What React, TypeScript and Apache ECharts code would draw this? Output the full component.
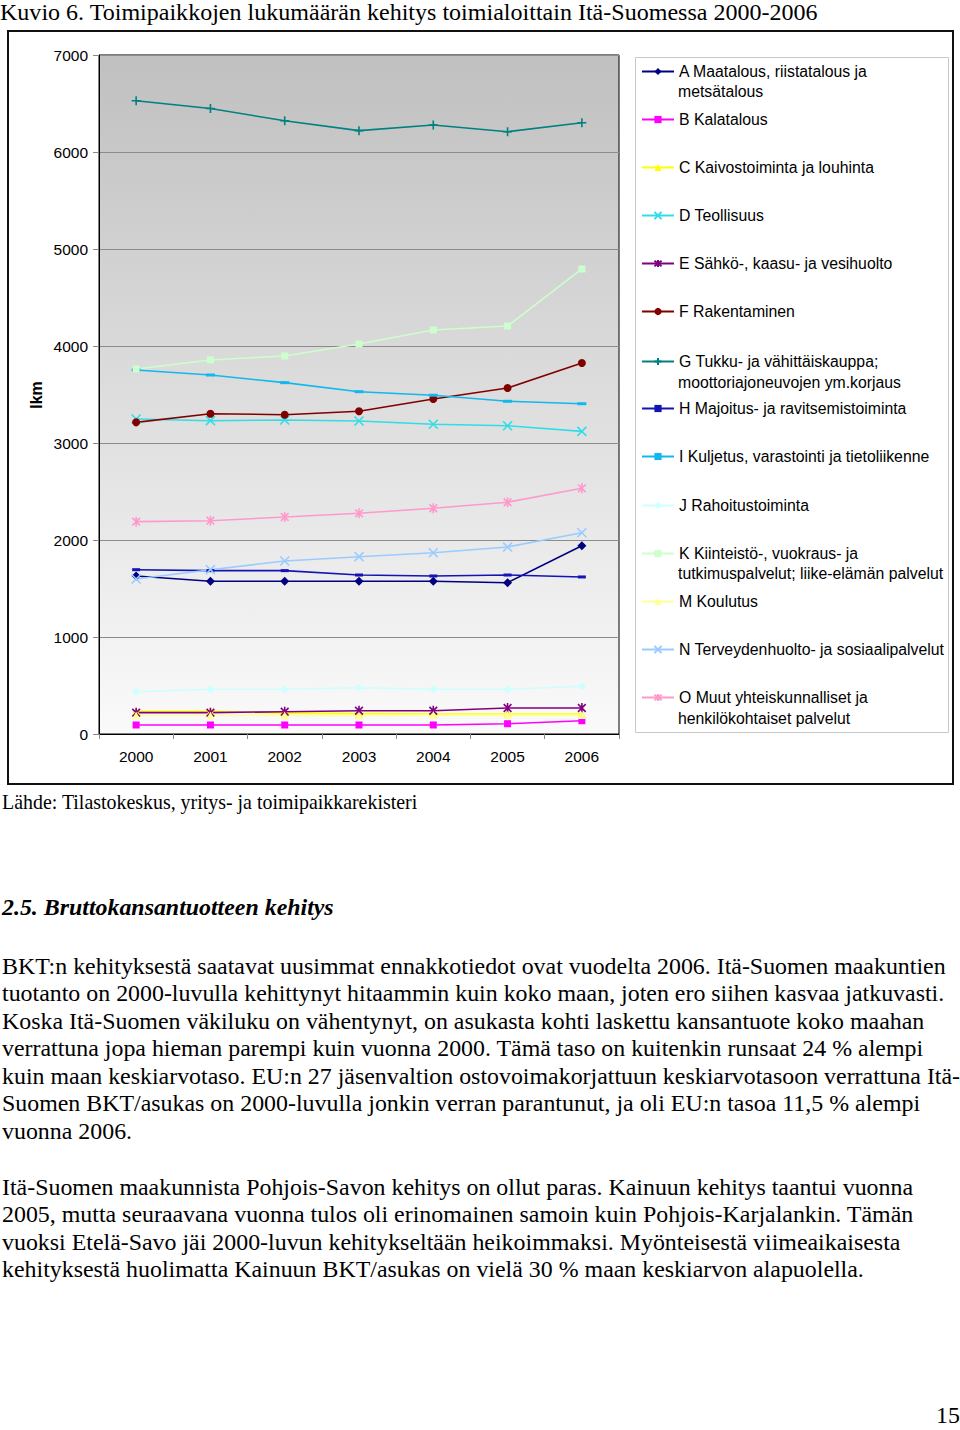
import React, { useEffect, useRef, useMemo } from "react";
import * as echarts from "echarts";

const years = ["2000", "2001", "2002", "2003", "2004", "2005", "2006"];

const seriesA = [1629, 1574, 1574, 1574, 1574, 1560, 1941];
const seriesB = [93, 93, 93, 93, 93, 106, 137];
const seriesC = [235, 235, 215, 210, 205, 205, 205];
const seriesD = [3247, 3230, 3237, 3227, 3193, 3178, 3120];
const seriesE = [220, 220, 230, 240, 240, 268, 268];
const seriesF = [3213, 3302, 3292, 3327, 3454, 3567, 3825];
const seriesG = [6529, 6448, 6322, 6220, 6278, 6209, 6302];
const seriesH = [1694, 1684, 1684, 1639, 1629, 1639, 1619];
const seriesI = [3753, 3701, 3622, 3529, 3492, 3430, 3405];
const seriesJ = [436, 461, 461, 477, 461, 461, 492];
const seriesK = [3763, 3856, 3897, 4021, 4165, 4206, 4794];
const seriesM = [190, 190, 192, 192, 195, 195, 195];
const seriesN = [1598, 1694, 1784, 1828, 1869, 1928, 2075];
const seriesO = [2189, 2199, 2237, 2275, 2327, 2389, 2533];

const legendFirstLines = [
  "A Maatalous, riistatalous ja",
  "B Kalatalous",
  "C Kaivostoiminta ja louhinta",
  "D Teollisuus",
  "E Sähkö-, kaasu- ja vesihuolto",
  "F Rakentaminen",
  "G Tukku- ja vähittäiskauppa;",
  "H Majoitus- ja ravitsemistoiminta",
  "I Kuljetus, varastointi ja tietoliikenne",
  "J Rahoitustoiminta",
  "K Kiinteistö-, vuokraus- ja",
  "M Koulutus",
  "N Terveydenhuolto- ja sosiaalipalvelut",
  "O Muut yhteiskunnalliset ja",
];
const legendSecondLines = [
  "metsätalous", "", "", "", "", "",
  "moottoriajoneuvojen ym.korjaus", "", "", "",
  "tutkimuspalvelut; liike-elämän palvelut", "", "",
  "henkilökohtaiset palvelut",
];

const titleText = "Kuvio 6. Toimipaikkojen lukumäärän kehitys toimialoittain Itä-Suomessa 2000-2006";
const sourceText = "Lähde: Tilastokeskus, yritys- ja toimipaikkarekisteri";
const headingText = "2.5. Bruttokansantuotteen kehitys";
const paragraphLines = [
  "BKT:n kehityksestä saatavat uusimmat ennakkotiedot ovat vuodelta 2006. Itä-Suomen maakuntien",
  "tuotanto on 2000-luvulla kehittynyt hitaammin kuin koko maan, joten ero siihen kasvaa jatkuvasti.",
  "Koska Itä-Suomen väkiluku on vähentynyt, on asukasta kohti laskettu kansantuote koko maahan",
  "verrattuna jopa hieman parempi kuin vuonna 2000. Tämä taso on kuitenkin runsaat 24 % alempi",
  "kuin maan keskiarvotaso. EU:n 27 jäsenvaltion ostovoimakorjattuun keskiarvotasoon verrattuna Itä-",
  "Suomen BKT/asukas on 2000-luvulla jonkin verran parantunut, ja oli EU:n tasoa 11,5 % alempi",
  "vuonna 2006.",
];
const paragraph2Lines = [
  "Itä-Suomen maakunnista Pohjois-Savon kehitys on ollut paras. Kainuun kehitys taantui vuonna",
  "2005, mutta seuraavana vuonna tulos oli erinomainen samoin kuin Pohjois-Karjalankin. Tämän",
  "vuoksi Etelä-Savo jäi 2000-luvun kehitykseltään heikoimmaksi. Myönteisestä viimeaikaisesta",
  "kehityksestä huolimatta Kainuun BKT/asukas on vielä 30 % maan keskiarvon alapuolella.",
];
const pageNumber = "15";

const X_PATH = "path://M0,0L10,10M10,0L0,10";
const STAR_PATH = "path://M0,0L10,10M10,0L0,10M5,-1.5L5,11.5";
const PLUS_PATH = "path://M5,0L5,10M0,5L10,5";

const SANS = "'Liberation Sans', Arial, sans-serif";
const SERIF = "'Liberation Serif', 'Times New Roman', serif";

function measure(text: string, style: string, size: number) {
  const c = document.createElement("canvas").getContext("2d");
  if (!c) return text.length * size * 0.45;
  c.font = `${style} ${size}px ${SERIF}`;
  return c.measureText(text).width;
}
function fitSize(text: string, style: string, target: number) {
  return (100 * target) / measure(text, style, 100);
}

export default function App() {
  const ref = useRef<HTMLDivElement>(null);

  useEffect(() => {
    if (!ref.current) return;
    const chart = echarts.init(ref.current, undefined, { renderer: "svg" });

    const defs = [
      { data: seriesA, color: "#000080", symbol: "diamond", size: 9, stroke: false },
      { data: seriesB, color: "#ff00ff", symbol: "rect", size: 7, stroke: false },
      { data: seriesC, color: "#ffff00", symbol: "triangle", size: 8, stroke: false },
      { data: seriesD, color: "#33dde6", symbol: X_PATH, size: 9, stroke: true },
      { data: seriesE, color: "#800080", symbol: STAR_PATH, size: 10, stroke: true },
      { data: seriesF, color: "#800000", symbol: "circle", size: 8, stroke: false },
      { data: seriesG, color: "#008080", symbol: PLUS_PATH, size: 9, stroke: true },
      { data: seriesH, color: "#1414b4", symbol: "rect", size: [8, 3], stroke: false },
      { data: seriesI, color: "#10b8ee", symbol: "rect", size: [9, 3], stroke: false },
      { data: seriesJ, color: "#ccffff", symbol: "diamond", size: 8, stroke: false },
      { data: seriesK, color: "#ccffcc", symbol: "rect", size: 7, stroke: false },
      { data: seriesM, color: "#ffff99", symbol: "triangle", size: 8, stroke: false },
      { data: seriesN, color: "#99ccff", symbol: X_PATH, size: 9, stroke: true },
      { data: seriesO, color: "#ff99cc", symbol: STAR_PATH, size: 10, stroke: true },
    ];
    const fullNames = legendFirstLines.map((f, i) =>
      legendSecondLines[i] ? f + " " + legendSecondLines[i] : f
    );
    const firstByName: Record<string, string> = {};
    fullNames.forEach((n, i) => (firstByName[n] = legendFirstLines[i]));

    const legendY = [71, 119, 167, 215, 263, 311, 361, 408, 456, 505, 553, 601, 649, 697];
    const secondY = [91, 0, 0, 0, 0, 0, 382, 0, 0, 0, 573, 0, 0, 718];

    const series = defs.map((d, i) => ({
      type: "line",
      name: fullNames[i],
      data: d.data,
      symbol: d.symbol,
      symbolSize: d.size,
      symbolKeepAspect: true,
      showSymbol: true,
      lineStyle: { color: d.color, width: 1.6 },
      itemStyle: d.stroke
        ? { color: d.color, borderColor: d.color, borderWidth: 1.6 }
        : { color: d.color, borderWidth: 0 },
      emphasis: { disabled: true },
    }));

    const legends = fullNames.map((n, i) => ({
      show: true,
      left: 641,
      top: legendY[i] - 8.5,
      orient: "vertical",
      padding: 0,
      itemGap: 0,
      itemWidth: 32,
      itemHeight: 9,
      selectedMode: false,
      data: [n],
      formatter: (name: string) => firstByName[name] || name,
      textStyle: { fontSize: 15.8, fontFamily: SANS, color: "#000", lineHeight: 18 },
    }));

    const graphics: any[] = [
      {
        type: "rect",
        shape: { x: 635.5, y: 57.5, width: 313, height: 675 },
        style: { fill: "#fff", stroke: "#c8c8c8", lineWidth: 1 },
        z: 0,
      },
      {
        type: "rect",
        shape: { x: 8, y: 31, width: 945, height: 753 },
        style: { fill: "none", stroke: "#111", lineWidth: 2 },
        z: 0,
      },
      {
        type: "text",
        x: 36,
        y: 395,
        rotation: Math.PI / 2,
        style: {
          text: "lkm",
          fontSize: 16,
          fontWeight: "bold",
          fontFamily: SANS,
          fill: "#000",
          align: "center",
          verticalAlign: "middle",
        },
      },
    ];
    legendSecondLines.forEach((t, i) => {
      if (!t) return;
      graphics.push({
        type: "text",
        x: 678,
        y: secondY[i],
        style: {
          text: t,
          fontSize: 15.8,
          fontFamily: SANS,
          fill: "#000",
          align: "left",
          verticalAlign: "middle",
        },
        z: 10,
      });
    });

    chart.setOption({
      animation: false,
      grid: {
        left: 99,
        top: 55,
        width: 520,
        height: 679,
        show: true,
        borderColor: "#000",
        borderWidth: 1,
        backgroundColor: new echarts.graphic.LinearGradient(0, 0, 0, 1, [
          { offset: 0, color: "#c0c0c0" },
          { offset: 1, color: "#fafafa" },
        ]),
      },
      xAxis: {
        type: "category",
        data: years,
        boundaryGap: true,
        axisLine: { show: true, lineStyle: { color: "#000", width: 1 } },
        axisTick: { show: true, length: 5, lineStyle: { color: "#888" } },
        axisLabel: { fontSize: 15.5, fontFamily: SANS, color: "#000", margin: 14 },
        splitLine: { show: false },
      },
      yAxis: {
        type: "value",
        min: 0,
        max: 7000,
        interval: 1000,
        axisLine: { show: true, lineStyle: { color: "#000", width: 1 } },
        axisTick: { show: true, length: 6, lineStyle: { color: "#888" } },
        axisLabel: {
          fontSize: 15.5,
          fontFamily: SANS,
          color: "#000",
          margin: 11,
          formatter: (v: number) => String(v),
        },
        splitLine: { show: true, lineStyle: { color: "#8c8c8c", width: 1 } },
      },
      legend: legends,
      graphic: graphics,
      series,
    } as any);

    return () => chart.dispose();
  }, []);

  const sizes = useMemo(() => {
    const titleSize = 24;
    return {
      titleSize,
      titleScale: 818 / measure(titleText, "normal normal", titleSize),
      source: fitSize(sourceText, "normal normal", 416),
      heading: fitSize(headingText, "italic bold", 332),
      para: fitSize(paragraphLines[0], "normal normal", 944),
    };
  }, []);

  const textLine = (text: string, baseline: number, size: number, extra: any = {}, left = 2) => (
    <div
      key={text + baseline}
      style={{
        position: "absolute",
        left,
        top: baseline - 0.8375 * size,
        fontFamily: SERIF,
        fontSize: size,
        lineHeight: 1,
        whiteSpace: "nowrap",
        color: "#000",
        ...extra,
      }}
    >
      {text}
    </div>
  );

  return (
    <div
      style={{
        position: "absolute",
        left: 0,
        top: 0,
        width: 960,
        height: 1430,
        background: "#fff",
        overflow: "hidden",
      }}
    >
      <div ref={ref} style={{ position: "absolute", left: 0, top: 0, width: 960, height: 790 }} />
      {textLine(titleText, 20, sizes.titleSize, {
        transform: `scaleX(${sizes.titleScale})`,
        transformOrigin: "0 0",
      }, 0)}
      {textLine(sourceText, 810, sizes.source)}
      {textLine(headingText, 916, sizes.heading, { fontStyle: "italic", fontWeight: "bold" })}
      {paragraphLines.map((t, i) => textLine(t, 975 + i * 27.5, sizes.para))}
      {paragraph2Lines.map((t, i) => textLine(t, 1196 + i * 27.5, sizes.para))}
      {textLine(pageNumber, 1424, sizes.para, {}, 936)}
    </div>
  );
}
